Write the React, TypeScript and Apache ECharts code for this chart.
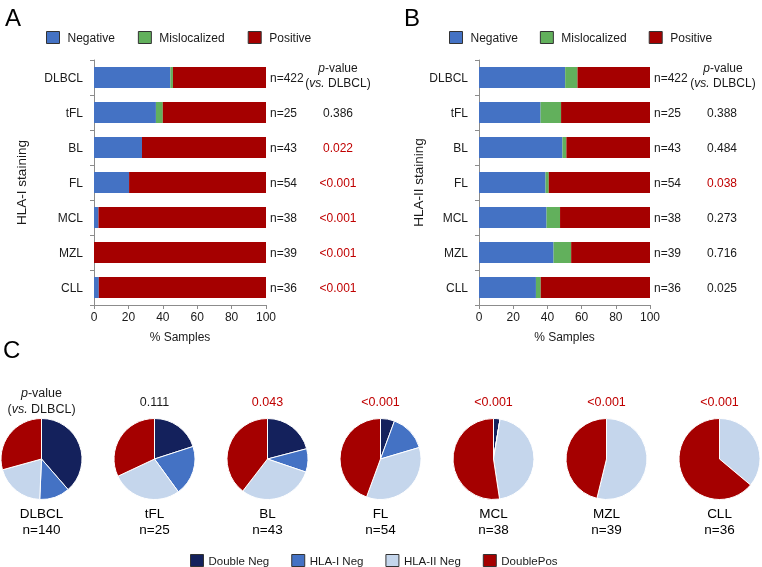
import React, { useEffect, useRef } from 'react';
import * as echarts from 'echarts';

const categories = ['DLBCL', 'tFL', 'BL', 'FL', 'MCL', 'MZL', 'CLL'];
const nSamples = ['422', '25', '43', '54', '38', '39', '36'];

// Panel A: HLA-I staining (% samples)
const negA = [44.4, 36, 27.9, 20.4, 2.6, 0, 2.8];
const misA = [1.5, 4, 0, 0, 0, 0, 0];
const posA = [54.1, 60, 72.1, 79.6, 97.4, 100, 97.2];
const pA = ['', '0.386', '0.022', '<0.001', '<0.001', '<0.001', '<0.001'];
const sigA = [false, false, true, true, true, true, true];

// Panel B: HLA-II staining (% samples)
const negB = [50.4, 36, 48.8, 38.9, 39.5, 43.6, 33.3];
const misB = [7.2, 12, 2.3, 1.9, 7.9, 10.3, 2.8];
const posB = [42.4, 52, 48.9, 59.2, 52.6, 46.1, 63.9];
const pB = ['', '0.388', '0.484', '0.038', '0.273', '0.716', '0.025'];
const sigB = [false, false, false, true, false, false, false];

// Panel C: pies
const pieN = ['140', '25', '43', '54', '38', '39', '36'];
const pieDoubleNeg = [38.6, 20, 20.9, 5.6, 2.6, 0, 0];
const pieHlaINeg = [12.1, 20, 9.3, 14.8, 0, 0, 0];
const pieHlaIINeg = [20, 28, 30.2, 35.2, 45, 53.8, 36.1];
const pieDoublePos = [29.3, 32, 39.5, 44.4, 52.4, 46.2, 63.9];
const pieP = ['', '0.111', '0.043', '<0.001', '<0.001', '<0.001', '<0.001'];
const pieSig = [false, false, true, true, true, true, true];

const barLegend = ['Negative', 'Mislocalized', 'Positive'];
const pieLegend = ['Double Neg', 'HLA-I Neg', 'HLA-II Neg', 'DoublePos'];

const C_BLUE = '#4472C4';
const C_GREEN = '#62B05C';
const C_RED = '#A50000';
const C_NAVY = '#14215C';
const C_LIGHT = '#C5D6EC';
const TXT = '#1a1a1a';
const SIG = '#C00000';
const AX = '#8c8c8c';

const FONT = '"Liberation Sans", Arial, Helvetica, sans-serif';

export default function App() {
  const ref = useRef<HTMLDivElement>(null);

  useEffect(() => {
    if (!ref.current) return;
    const chart = echarts.init(ref.current, null, { renderer: 'svg' });

    const grids = [
      { left: 94, top: 60, width: 172, height: 245 },
      { left: 479, top: 60, width: 171, height: 245 },
    ];

    const barSeries = (gi: number, neg: number[], mis: number[], pos: number[], pv: string[], sig: boolean[]) => {
      const base = {
        type: 'bar',
        xAxisIndex: gi,
        yAxisIndex: gi,
        stack: 's' + gi,
        barWidth: 21,
      };
      return [
        { ...base, name: 'Negative', data: neg, itemStyle: { color: C_BLUE } },
        { ...base, name: 'Mislocalized', data: mis, itemStyle: { color: C_GREEN } },
        {
          ...base,
          name: 'Positive',
          data: pos,
          itemStyle: { color: C_RED },
          label: {
            show: true,
            position: 'right',
            distance: 4,
            formatter: (p: any) => {
              const i = p.dataIndex;
              const n = `{n|n=${nSamples[i]}}`;
              return pv[i] ? n + `{${sig[i] ? 'r' : 'k'}|${pv[i]}}` : n;
            },
            rich: {
              n: { width: 43, fontSize: 12, color: TXT, fontFamily: FONT },
              k: { width: 50, align: 'center', fontSize: 12, color: TXT, fontFamily: FONT },
              r: { width: 50, align: 'center', fontSize: 12, color: SIG, fontFamily: FONT },
            },
          },
        },
      ];
    };

    const xAxes = grids.map((_, gi) => ({
      type: 'value',
      gridIndex: gi,
      min: 0,
      max: 100,
      interval: 20,
      name: '% Samples',
      nameLocation: 'middle',
      nameGap: 26,
      nameTextStyle: { fontSize: 12, color: TXT, fontFamily: FONT },
      axisLine: { show: true, lineStyle: { color: AX } },
      axisTick: { show: true, length: 4, lineStyle: { color: AX } },
      axisLabel: { fontSize: 12, color: TXT, margin: 6, fontFamily: FONT },
      splitLine: { show: false },
    }));

    const yAxes = grids.map((_, gi) => ({
      type: 'category',
      gridIndex: gi,
      data: categories,
      inverse: true,
      name: gi === 0 ? 'HLA-I staining' : 'HLA-II staining',
      nameLocation: 'middle',
      nameRotate: 90,
      nameGap: gi === 0 ? 66 : 52,
      nameTextStyle: { fontSize: 13.5, color: TXT, fontFamily: FONT },
      axisLine: { show: true, lineStyle: { color: AX } },
      axisTick: { show: true, length: 4, alignWithLabel: false, lineStyle: { color: AX } },
      axisLabel: { fontSize: 12, color: TXT, margin: 11, fontFamily: FONT },
      splitLine: { show: false },
    }));

    const pieSeries = categories.map((c, i) => ({
      type: 'pie',
      name: c,
      center: [41.5 + i * 113, 459],
      radius: 40.5,
      startAngle: 90,
      clockwise: true,
      label: { show: false },
      labelLine: { show: false },
      emphasis: { disabled: true },
      itemStyle: { borderColor: '#ffffff', borderWidth: 1 },
      data: [
        { name: 'Double Neg', value: pieDoubleNeg[i], itemStyle: { color: C_NAVY } },
        { name: 'HLA-I Neg', value: pieHlaINeg[i], itemStyle: { color: C_BLUE } },
        { name: 'HLA-II Neg', value: pieHlaIINeg[i], itemStyle: { color: C_LIGHT } },
        { name: 'DoublePos', value: pieDoublePos[i], itemStyle: { color: C_RED } },
      ],
    }));

    const graphics: any[] = [];
    const letter = (t: string, x: number, y: number) => ({
      type: 'text',
      x,
      y,
      style: { text: t, fontSize: 24, fill: '#000', fontFamily: FONT, textVerticalAlign: 'middle' },
    });
    graphics.push(letter('A', 5, 17), letter('B', 404, 17), letter('C', 3, 349));

    const header = (cx: number, y1: number, y2: number, fs: number) => [
      {
        type: 'text',
        x: cx,
        y: y1,
        style: {
          text: '{i|p}-value',
          rich: { i: { fontStyle: 'italic', fontSize: fs, fontFamily: FONT, fill: TXT } },
          fontSize: fs,
          fontFamily: FONT,
          fill: TXT,
          textAlign: 'center',
          textVerticalAlign: 'middle',
        },
      },
      {
        type: 'text',
        x: cx,
        y: y2,
        style: {
          text: '({i|vs.} DLBCL)',
          rich: { i: { fontStyle: 'italic', fontSize: fs, fontFamily: FONT, fill: TXT } },
          fontSize: fs,
          fontFamily: FONT,
          fill: TXT,
          textAlign: 'center',
          textVerticalAlign: 'middle',
        },
      },
    ];
    graphics.push(...header(grids[0].left + grids[0].width + 72, 68, 83, 12));
    graphics.push(...header(grids[1].left + grids[1].width + 73, 68, 83, 12));

    categories.forEach((c, i) => {
      const cx = 41.5 + i * 113;
      graphics.push({
        type: 'text',
        x: cx,
        y: 513,
        style: { text: c, fontSize: 13.5, fill: '#000', fontFamily: FONT, textAlign: 'center', textVerticalAlign: 'middle' },
      });
      graphics.push({
        type: 'text',
        x: cx,
        y: 529,
        style: { text: 'n=' + pieN[i], fontSize: 13.5, fill: '#000', fontFamily: FONT, textAlign: 'center', textVerticalAlign: 'middle' },
      });
      if (pieP[i]) {
        graphics.push({
          type: 'text',
          x: cx,
          y: 402,
          style: {
            text: pieP[i],
            fontSize: 12.5,
            fill: pieSig[i] ? SIG : TXT,
            fontFamily: FONT,
            textAlign: 'center',
            textVerticalAlign: 'middle',
          },
        });
      }
    });
    graphics.push(...header(41.5, 393, 409, 12.5));

    const legendBase = {
      orient: 'horizontal',
      icon: 'rect',
      itemWidth: 13,
      itemHeight: 12,
      itemStyle: { borderColor: '#333', borderWidth: 1 },
      textStyle: { fontSize: 12, color: TXT, fontFamily: FONT, padding: [0, 0, 0, 3] },
      selectedMode: false,
      padding: 0,
    };

    const option: any = {
      animation: false,
      textStyle: { fontFamily: FONT },
      grid: grids.map((g) => ({ ...g, containLabel: false, outerBoundsMode: 'none' })),
      xAxis: xAxes,
      yAxis: yAxes,
      legend: [
        { ...legendBase, left: 46, top: 31, itemGap: 23, data: barLegend },
        { ...legendBase, left: 449, top: 31, itemGap: 22, data: barLegend },
        {
          ...legendBase,
          left: 190,
          top: 554,
          itemGap: 22,
          textStyle: { fontSize: 11.5, color: TXT, fontFamily: FONT, padding: [0, 0, 0, 0] },
          data: pieLegend,
        },
      ],
      series: [
        ...barSeries(0, negA, misA, posA, pA, sigA),
        ...barSeries(1, negB, misB, posB, pB, sigB),
        ...pieSeries,
      ],
      graphic: graphics,
    };

    chart.setOption(option);
    return () => chart.dispose();
  }, []);

  return <div ref={ref} style={{ position: 'fixed', left: 0, top: 0, width: 762, height: 567 }} />;
}
